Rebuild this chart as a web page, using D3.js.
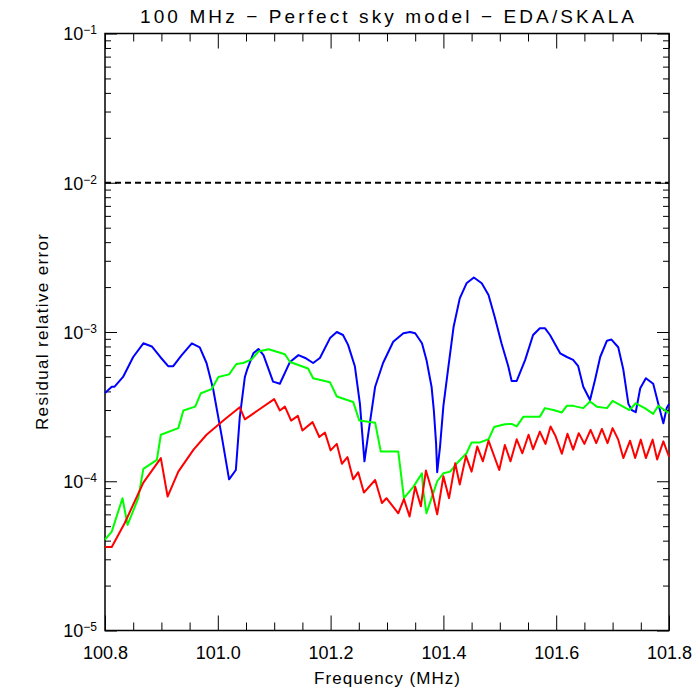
<!DOCTYPE html>
<html>
<head>
<meta charset="utf-8">
<script src="https://cdn.jsdelivr.net/npm/d3@7"></script>
<style>
  body { margin: 0; background: #fff; }
  text { font-family: "Liberation Sans", Arial, sans-serif; fill: #000; }
</style>
</head>
<body>
<div id="chart-area"></div>
<script>
// [frequency MHz, residual relative error]
var blueData = [
  [100.800, 3.9e-4], [100.812, 4.3e-4], [100.817, 4.3e-4], [100.832, 5.0e-4], [100.850, 6.8e-4],
  [100.868, 8.4e-4], [100.883, 8.0e-4], [100.898, 6.8e-4], [100.912, 5.9e-4], [100.921, 5.9e-4],
  [100.936, 7.0e-4], [100.954, 8.4e-4], [100.968, 7.9e-4], [100.980, 6.2e-4], [100.992, 4.1e-4],
  [101.007, 2.0e-4], [101.020, 1.03e-4], [101.032, 1.19e-4], [101.039, 2.7e-4], [101.048, 5.0e-4],
  [101.052, 5.6e-4], [101.063, 7.2e-4], [101.072, 7.7e-4], [101.081, 7.0e-4], [101.098, 4.65e-4],
  [101.110, 4.5e-4], [101.128, 6.3e-4], [101.143, 7.0e-4], [101.155, 6.7e-4], [101.169, 6.2e-4],
  [101.181, 6.7e-4], [101.199, 9.1e-4], [101.211, 1.0e-3], [101.222, 9.55e-4], [101.231, 8.2e-4],
  [101.243, 5.9e-4], [101.252, 3.3e-4], [101.260, 1.36e-4], [101.267, 2.1e-4], [101.279, 4.3e-4],
  [101.293, 6.2e-4], [101.311, 8.6e-4], [101.329, 9.8e-4], [101.341, 1.0e-3], [101.350, 9.8e-4],
  [101.362, 8.4e-4], [101.370, 6.5e-4], [101.379, 4.3e-4], [101.383, 3.0e-4], [101.387, 1.8e-4],
  [101.389, 1.15e-4], [101.394, 1.7e-4], [101.400, 3.2e-4], [101.409, 5.9e-4], [101.418, 1.08e-3],
  [101.429, 1.68e-3], [101.441, 2.12e-3], [101.454, 2.32e-3], [101.468, 2.12e-3], [101.480, 1.77e-3],
  [101.491, 1.26e-3], [101.503, 8.4e-4], [101.515, 5.9e-4], [101.521, 4.7e-4], [101.530, 4.7e-4],
  [101.545, 6.5e-4], [101.559, 9.55e-4], [101.571, 1.06e-3], [101.580, 1.06e-3], [101.589, 9.55e-4],
  [101.607, 7.2e-4], [101.619, 6.8e-4], [101.630, 6.5e-4], [101.639, 5.9e-4], [101.648, 4.3e-4],
  [101.660, 3.5e-4], [101.669, 4.8e-4], [101.678, 6.8e-4], [101.690, 8.75e-4], [101.698, 8.9e-4],
  [101.710, 7.9e-4], [101.719, 5.6e-4], [101.728, 3.3e-4], [101.734, 3.0e-4], [101.741, 2.9e-4],
  [101.749, 4.2e-4], [101.759, 4.9e-4], [101.772, 4.5e-4], [101.781, 3.3e-4], [101.790, 2.45e-4],
  [101.796, 3.1e-4], [101.800, 3.3e-4]
];

var greenData = [
  [100.800, 4.06e-5], [100.812, 4.6e-5], [100.831, 7.7e-5], [100.840, 5.1e-5], [100.859, 7.7e-5],
  [100.868, 1.21e-4], [100.892, 1.39e-4], [100.899, 2.05e-4], [100.930, 2.27e-4], [100.939, 2.98e-4],
  [100.960, 3.16e-4], [100.970, 3.89e-4], [100.989, 4.14e-4], [101.001, 5.0e-4], [101.020, 5.2e-4],
  [101.033, 6.1e-4], [101.045, 6.2e-4], [101.060, 6.56e-4], [101.072, 7.4e-4], [101.090, 7.66e-4],
  [101.119, 7.1e-4], [101.128, 6.3e-4], [101.160, 5.7e-4], [101.169, 4.9e-4], [101.199, 4.6e-4],
  [101.211, 3.7e-4], [101.240, 3.4e-4], [101.251, 2.55e-4], [101.279, 2.47e-4], [101.289, 1.58e-4],
  [101.320, 1.58e-4], [101.330, 7.7e-5], [101.347, 9.2e-5], [101.362, 1.13e-4], [101.364, 8.8e-5],
  [101.370, 6.1e-5], [101.379, 7.7e-5], [101.389, 1.0e-4], [101.400, 1.13e-4], [101.412, 1.16e-4],
  [101.424, 1.32e-4], [101.441, 1.54e-4], [101.450, 1.82e-4], [101.465, 1.82e-4], [101.480, 1.91e-4],
  [101.490, 2.31e-4], [101.509, 2.41e-4], [101.521, 2.42e-4], [101.530, 2.33e-4], [101.542, 2.71e-4],
  [101.571, 2.71e-4], [101.580, 3.09e-4], [101.595, 3.0e-4], [101.610, 2.89e-4], [101.619, 3.21e-4],
  [101.630, 3.2e-4], [101.648, 3.09e-4], [101.660, 3.42e-4], [101.672, 3.16e-4], [101.690, 3.09e-4],
  [101.700, 3.46e-4], [101.713, 3.25e-4], [101.730, 3.0e-4], [101.741, 3.33e-4], [101.757, 3.09e-4],
  [101.772, 2.83e-4], [101.781, 3.2e-4], [101.800, 2.86e-4]
];

var redData = [
  [100.800, 3.63e-5], [100.812, 3.63e-5], [100.835, 5.25e-5], [100.868, 9.8e-5], [100.899, 1.43e-4],
  [100.911, 7.9e-5], [100.930, 1.16e-4], [100.957, 1.63e-4], [100.980, 2.05e-4], [101.013, 2.61e-4],
  [101.039, 3.13e-4], [101.048, 2.6e-4], [101.072, 3.0e-4], [101.100, 3.55e-4], [101.110, 2.98e-4],
  [101.119, 3.16e-4], [101.130, 2.55e-4], [101.142, 2.74e-4], [101.150, 2.19e-4], [101.168, 2.49e-4],
  [101.180, 1.98e-4], [101.190, 2.12e-4], [101.200, 1.61e-4], [101.211, 1.78e-4], [101.220, 1.31e-4],
  [101.230, 1.45e-4], [101.240, 1.03e-4], [101.249, 1.15e-4], [101.259, 8.4e-5], [101.279, 1.02e-4],
  [101.291, 7.15e-5], [101.299, 7.7e-5], [101.320, 6.1e-5], [101.330, 7.6e-5], [101.340, 5.8e-5],
  [101.350, 9.2e-5], [101.360, 6.8e-5], [101.369, 1.18e-4], [101.379, 8.8e-5], [101.389, 6.0e-5],
  [101.400, 1.08e-4], [101.410, 7.7e-5], [101.421, 1.32e-4], [101.429, 9.5e-5], [101.440, 1.48e-4],
  [101.450, 1.16e-4], [101.460, 1.71e-4], [101.470, 1.36e-4], [101.480, 1.87e-4], [101.499, 1.19e-4],
  [101.509, 1.75e-4], [101.519, 1.36e-4], [101.530, 1.91e-4], [101.540, 1.54e-4], [101.551, 2.05e-4],
  [101.559, 1.64e-4], [101.571, 2.15e-4], [101.581, 1.78e-4], [101.590, 2.33e-4], [101.599, 2.0e-4],
  [101.610, 1.53e-4], [101.620, 2.08e-4], [101.630, 1.63e-4], [101.640, 2.1e-4], [101.650, 1.78e-4],
  [101.661, 2.21e-4], [101.671, 1.8e-4], [101.681, 2.24e-4], [101.691, 1.8e-4], [101.700, 2.27e-4],
  [101.710, 1.9e-4], [101.719, 1.43e-4], [101.731, 1.87e-4], [101.740, 1.43e-4], [101.750, 1.9e-4],
  [101.759, 1.43e-4], [101.771, 1.9e-4], [101.779, 1.4e-4], [101.790, 1.85e-4], [101.800, 1.46e-4]
];

var thresholdValue = 1e-2;
var xMajorTicks = [100.8, 101.0, 101.2, 101.4, 101.6, 101.8];
var xTickLabels = ["100.8", "101.0", "101.2", "101.4", "101.6", "101.8"];
var yMajorTicks = [1e-5, 1e-4, 1e-3, 1e-2, 1e-1];
var yTickExponents = ["\u22125", "\u22124", "\u22123", "\u22122", "\u22121"];

var titleText = "100 MHz \u2212 Perfect sky model \u2212 EDA/SKALA";
var xTitle = "Frequency (MHz)";
var yTitle = "Residual relative error";

var svg = d3.select("#chart-area")
  .append("svg")
  .attr("width", 700)
  .attr("height", 700);

var margin = { top: 33.5, right: 31, bottom: 69.5, left: 105 };
var width = 700 - margin.left - margin.right;
var height = 700 - margin.top - margin.bottom;

var g = svg.append("g")
  .attr("transform", "translate(" + margin.left + "," + margin.top + ")");

var x = d3.scaleLinear()
  .domain([100.8, 101.8])
  .range([0, width]);

var y = d3.scaleLog()
  .domain([1e-5, 1e-1])
  .range([height, 0]);

// minor ticks
var xMinor = d3.range(100.8, 101.8001, 0.05).filter(v => Math.abs(Math.round(v * 5) - v * 5) > 1e-6);
var yMinor = [];
yMajorTicks.slice(0, -1).forEach(d => {
  for (var k = 2; k <= 9; k++) yMinor.push(d * k);
});

function noDomain(sel) { sel.select(".domain").remove(); }

// x axes (bottom & top), ticks pointing inward
g.append("g").attr("class", "x axis")
  .attr("transform", "translate(0," + height + ")")
  .call(d3.axisBottom(x).tickValues(xMajorTicks).tickSize(-15).tickPadding(16)
    .tickFormat((d, i) => xTickLabels[i]))
  .call(noDomain);
g.append("g")
  .attr("transform", "translate(0," + height + ")")
  .call(d3.axisBottom(x).tickValues(xMinor).tickSize(-8).tickFormat(""))
  .call(noDomain);
g.append("g")
  .call(d3.axisTop(x).tickValues(xMajorTicks).tickSize(-15).tickFormat(""))
  .call(noDomain);
g.append("g")
  .call(d3.axisTop(x).tickValues(xMinor).tickSize(-8).tickFormat(""))
  .call(noDomain);

// y axes (left & right)
var yAxisG = g.append("g").attr("class", "y axis")
  .call(d3.axisLeft(y).tickValues(yMajorTicks).tickSize(-12).tickPadding(8).tickFormat(""))
  .call(noDomain);
g.append("g")
  .call(d3.axisLeft(y).tickValues(yMinor).tickSize(-6).tickFormat(""))
  .call(noDomain);
g.append("g")
  .attr("transform", "translate(" + width + ",0)")
  .call(d3.axisRight(y).tickValues(yMajorTicks).tickSize(-12).tickFormat(""))
  .call(noDomain);
g.append("g")
  .attr("transform", "translate(" + width + ",0)")
  .call(d3.axisRight(y).tickValues(yMinor).tickSize(-6).tickFormat(""))
  .call(noDomain);

g.selectAll(".tick line").attr("stroke", "#000").attr("stroke-width", 1);
g.selectAll(".x.axis .tick text").attr("font-size", "18px").attr("fill", "#000");

// y labels as 10 with superscript exponent
yAxisG.selectAll(".tick").each(function (d, i) {
  var t = d3.select(this).append("text")
    .attr("x", -8)
    .attr("dy", "0.35em")
    .attr("text-anchor", "end")
    .attr("font-size", "18px");
  t.append("tspan").text("10");
  t.append("tspan")
    .attr("dy", "-0.5em")
    .attr("font-size", "12px")
    .text(yTickExponents[i]);
});

// frame
g.append("rect")
  .attr("width", width)
  .attr("height", height)
  .attr("fill", "none")
  .attr("stroke", "#000")
  .attr("stroke-width", 1.5);

// threshold line
g.append("line")
  .attr("x1", 0)
  .attr("x2", width)
  .attr("y1", y(thresholdValue))
  .attr("y2", y(thresholdValue))
  .attr("stroke", "#000")
  .attr("stroke-width", 2)
  .attr("stroke-dasharray", "6,4");

var line = d3.line()
  .x(d => x(d[0]))
  .y(d => y(d[1]));

var series = [
  { data: blueData, color: "#0000ff" },
  { data: greenData, color: "#00ff00" },
  { data: redData, color: "#ff0000" }
];

g.selectAll(".series")
  .data(series)
  .enter()
  .append("path")
  .attr("class", "series")
  .attr("d", d => line(d.data))
  .attr("fill", "none")
  .attr("stroke", d => d.color)
  .attr("stroke-width", 2)
  .attr("stroke-linejoin", "round");

// titles
svg.append("text")
  .attr("x", margin.left + width / 2)
  .attr("y", 23)
  .attr("text-anchor", "middle")
  .attr("font-size", "19px")
  .attr("textLength", 494)
  .attr("lengthAdjust", "spacing")
  .text(titleText);

svg.append("text")
  .attr("x", margin.left + width / 2)
  .attr("y", 684)
  .attr("text-anchor", "middle")
  .attr("font-size", "17px")
  .attr("textLength", 146)
  .attr("lengthAdjust", "spacing")
  .text(xTitle);

svg.append("text")
  .attr("transform", "translate(48," + (margin.top + height / 2) + ") rotate(-90)")
  .attr("text-anchor", "middle")
  .attr("font-size", "17px")
  .attr("textLength", 196)
  .attr("lengthAdjust", "spacing")
  .text(yTitle);
</script>
</body>
</html>
